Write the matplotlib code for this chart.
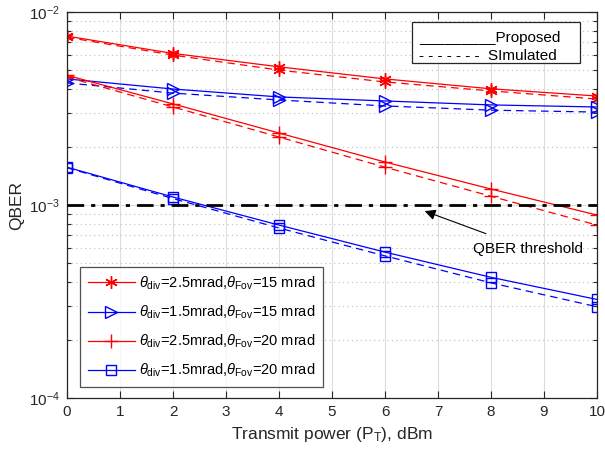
import numpy as np
import matplotlib
matplotlib.use("Agg")
import matplotlib.pyplot as plt
from matplotlib.patches import Rectangle
from matplotlib.ticker import LogLocator, NullFormatter, FixedLocator

plt.rcParams['font.family'] = ['Liberation Sans', 'DejaVu Sans']
plt.rcParams['mathtext.fontset'] = 'custom'
plt.rcParams['mathtext.rm'] = 'Liberation Sans'
plt.rcParams['mathtext.it'] = 'Liberation Sans:italic'
plt.rcParams['mathtext.bf'] = 'Liberation Sans:bold'

# Transmit power (dBm)
power_dbm = [0, 2, 4, 6, 8, 10]

# QBER, theta_div = 2.5 mrad, theta_FOV = 15 mrad
qber_25_15_proposed = [7.5e-3, 6.1e-3, 5.2e-3, 4.5e-3, 4.0e-3, 3.67e-3]
qber_25_15_simulated = [7.4e-3, 5.98e-3, 5.0e-3, 4.34e-3, 3.9e-3, 3.54e-3]

# QBER, theta_div = 1.5 mrad, theta_FOV = 15 mrad
qber_15_15_proposed = [4.5e-3, 3.99e-3, 3.63e-3, 3.46e-3, 3.30e-3, 3.22e-3]
qber_15_15_simulated = [4.29e-3, 3.80e-3, 3.50e-3, 3.26e-3, 3.10e-3, 3.03e-3]

# QBER, theta_div = 2.5 mrad, theta_FOV = 20 mrad
qber_25_20_proposed = [4.7e-3, 3.34e-3, 2.36e-3, 1.67e-3, 1.21e-3, 8.87e-4]
qber_25_20_simulated = [4.6e-3, 3.22e-3, 2.25e-3, 1.57e-3, 1.11e-3, 7.87e-4]

# QBER, theta_div = 1.5 mrad, theta_FOV = 20 mrad
qber_15_20_proposed = [1.57e-3, 1.10e-3, 7.87e-4, 5.70e-4, 4.22e-4, 3.24e-4]
qber_15_20_simulated = [1.56e-3, 1.08e-3, 7.6e-4, 5.45e-4, 3.95e-4, 2.97e-4]

qber_threshold = 1e-3

series_labels = [
    r'$\theta_{\mathrm{div}}$=2.5mrad,$\theta_{\mathrm{Fov}}$=15 mrad',
    r'$\theta_{\mathrm{div}}$=1.5mrad,$\theta_{\mathrm{Fov}}$=15 mrad',
    r'$\theta_{\mathrm{div}}$=2.5mrad,$\theta_{\mathrm{Fov}}$=20 mrad',
    r'$\theta_{\mathrm{div}}$=1.5mrad,$\theta_{\mathrm{Fov}}$=20 mrad',
]

fig = plt.figure(figsize=(6.05, 4.49), dpi=100)
ax = fig.add_axes([67 / 605, 1 - 398 / 449, 530 / 605, 386 / 449])

styles = [
    dict(color='#ff0000', marker=(6, 2, 0), ms=9, mew=1.0),
    dict(color='#0000ff', marker='>', ms=9, mfc='none', mew=1.0),
    dict(color='#ff0000', marker='+', ms=10, mew=1.0),
    dict(color='#0000ff', marker='s', ms=7, mfc='none', mew=1.0),
]
proposed = [qber_25_15_proposed, qber_15_15_proposed, qber_25_20_proposed, qber_15_20_proposed]
simulated = [qber_25_15_simulated, qber_15_15_simulated, qber_25_20_simulated, qber_15_20_simulated]

handles = []
for st, yp, ys, lab in zip(styles, proposed, simulated, series_labels):
    h, = ax.plot(power_dbm, yp, '-', lw=0.9, label=lab, **st)
    ax.plot(power_dbm, ys, '--', lw=0.9, dashes=(6, 4), **st)
    handles.append(h)

ax.axhline(qber_threshold, color='k', lw=2.0, ls=(0, (6, 2.5, 1.5, 2.5)), zorder=3)

ax.set_yscale('log')
ax.set_xlim(0, 10)
ax.set_ylim(1e-4, 1e-2)
ax.xaxis.set_major_locator(FixedLocator(range(0, 11)))
ax.yaxis.set_major_locator(LogLocator(base=10, numticks=10))
ax.yaxis.set_minor_locator(LogLocator(base=10, subs=np.arange(2, 10), numticks=10))
ax.yaxis.set_minor_formatter(NullFormatter())

ax.grid(True, which='major', axis='both', color='#dcdcdc', lw=0.8, ls='-')
ax.grid(True, which='minor', axis='y', color='#bfbfbf', lw=0.8, ls=(0, (1, 3)))
ax.set_axisbelow(True)

ax.tick_params(which='both', direction='in', top=True, right=True, labelsize=11,
               colors='#262626')
ax.tick_params(which='major', length=5, width=0.8, pad=5)
ax.tick_params(which='minor', length=3, width=0.8)
for sp in ax.spines.values():
    sp.set_color('#262626')
    sp.set_linewidth(0.9)

ax.set_xlabel(r'Transmit power (P$_{\mathrm{T}}$), dBm', fontsize=12.5, color='#262626', labelpad=4)
ax.set_ylabel('QBER', fontsize=12.5, color='#262626', labelpad=4)

leg = ax.legend(handles=handles, loc='lower left', bbox_to_anchor=(0.0245, 0.028),
                borderaxespad=0, fontsize=10.5, frameon=True, fancybox=False,
                edgecolor='#262626', handlelength=3.2, handletextpad=0.3,
                borderpad=0.55, labelspacing=0.8)
leg.get_frame().set_linewidth(0.9)

# Key box for the line styles
ax.add_patch(Rectangle((0.651, 0.868), 0.317, 0.106, transform=ax.transAxes,
                       fc='white', ec='#262626', lw=0.9, zorder=5))
ax.text(0.664, 0.922, '_________Proposed', transform=ax.transAxes,
        ha='left', va='baseline', fontsize=11, zorder=6)
ax.text(0.664, 0.875, '- - - - - - -  SImulated', transform=ax.transAxes,
        ha='left', va='baseline', fontsize=11, zorder=6)

ax.annotate('QBER threshold', xy=(6.75, 9.3e-4), xytext=(8.7, 5.9e-4),
            ha='center', va='center', fontsize=11,
            arrowprops=dict(arrowstyle='-|>', color='k', lw=0.8, mutation_scale=16,
                            shrinkA=12, shrinkB=0))

fig.savefig('out.png', dpi=100)
